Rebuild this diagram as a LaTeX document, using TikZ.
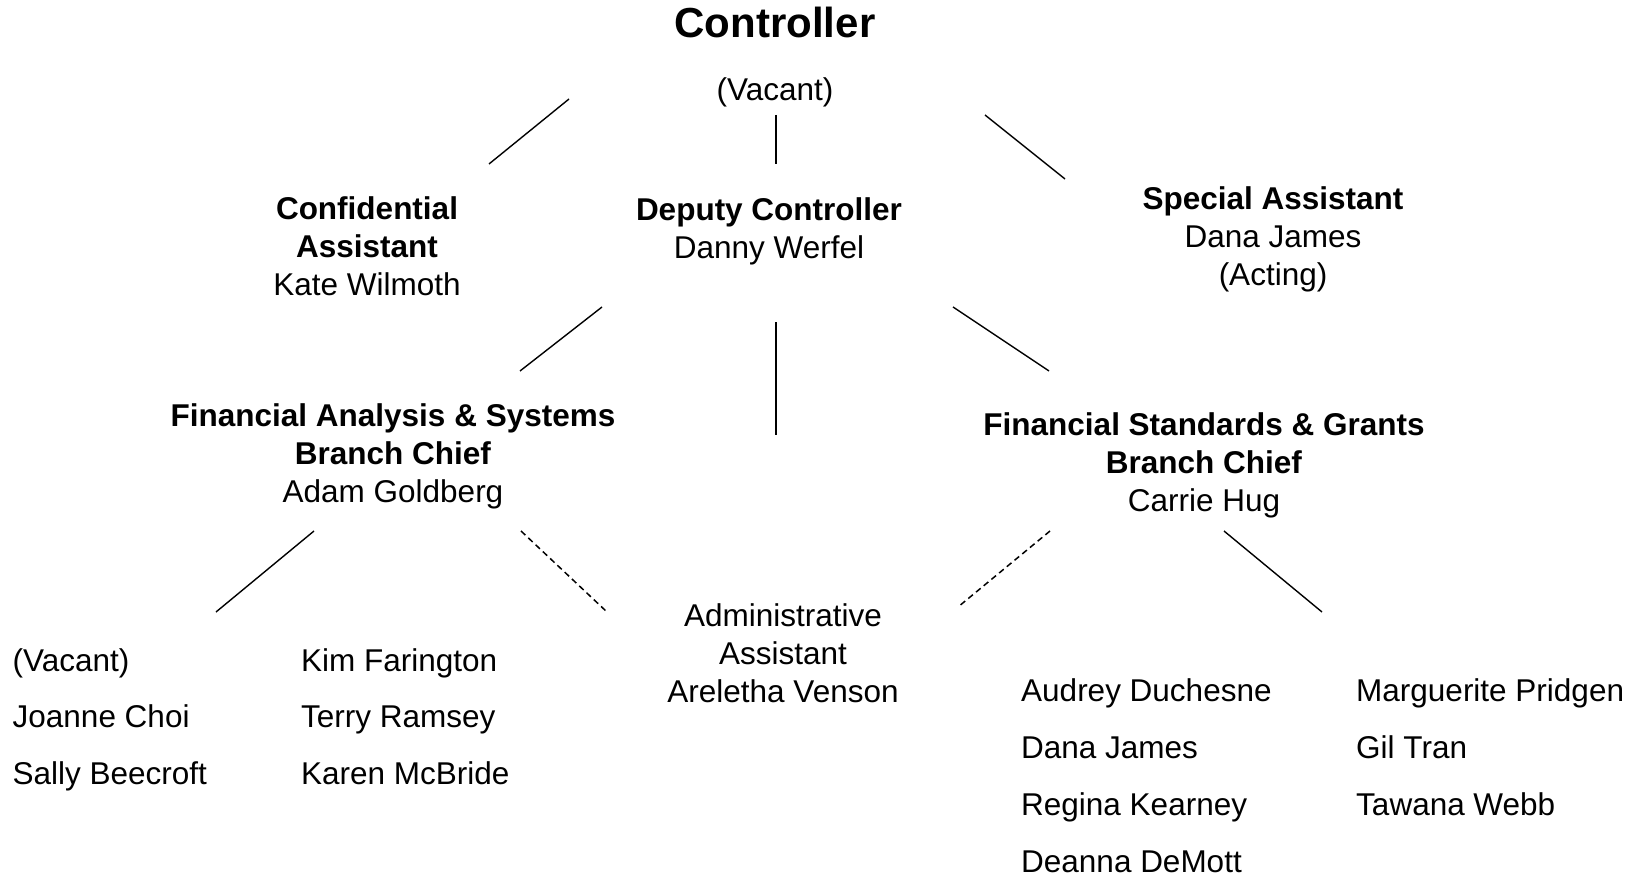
\documentclass[tikz,border=0pt]{standalone}
\usepackage{fontspec}
\setmainfont{Liberation Sans}
\begin{document}
\begin{tikzpicture}[x=1pt,y=-1pt,
  txt/.style={inner sep=0pt, anchor=base, align=center, font=\fontsize{31.5}{38}\selectfont},
  ttl/.style={inner sep=0pt, anchor=base, font=\fontsize{42}{50}\selectfont\bfseries},
  lstl/.style={inner sep=0pt, anchor=base west, align=left, font=\fontsize{31.5}{56.5}\selectfont},
  lstr/.style={inner sep=0pt, anchor=base west, align=left, font=\fontsize{31.5}{57}\selectfont},
  link/.style={line width=1.4pt},
  dlink/.style={line width=1.5pt, dash pattern=on 6pt off 4pt}]
\useasboundingbox (0,0) rectangle (1638,877);

% nodes (anchor = baseline of the last line)
\node[ttl] (ctl) at (775,38) {Controller};
\node[txt] (ctlname) at (775,101) {(Vacant)};
\node[txt] (conf) at (367,295) {\textbf{Confidential}\\\textbf{Assistant}\\Kate Wilmoth};
\node[txt] (dep) at (769,259) {\textbf{Deputy Controller}\\Danny Werfel};
\node[txt] (spec) at (1273,286) {\textbf{Special Assistant}\\Dana James\\(Acting)};
\node[txt] (fas) at (393,502) {\textbf{Financial Analysis \& Systems}\\\textbf{Branch Chief}\\Adam Goldberg};
\node[txt] (fsg) at (1204,511) {\textbf{Financial Standards \& Grants}\\\textbf{Branch Chief}\\Carrie Hug};
\node[txt] (adm) at (783,702) {Administrative\\Assistant\\Areletha Venson};
\node[lstl] (l1) at (12.5,784) {(Vacant)\\Joanne Choi\\Sally Beecroft};
\node[lstl] (l2) at (301,784) {Kim Farington\\Terry Ramsey\\Karen McBride};
\node[lstr] (r1) at (1021,872) {Audrey Duchesne\\Dana James\\Regina Kearney\\Deanna DeMott};
\node[lstr] (r2) at (1356,815) {Marguerite Pridgen\\Gil Tran\\Tawana Webb};

% connector end points
\coordinate (c1a) at (569,99);  \coordinate (c1b) at (489,164);
\coordinate (c2a) at (776,115); \coordinate (c2b) at (776,164);
\coordinate (c3a) at (985,115); \coordinate (c3b) at (1065,179);
\coordinate (d1a) at (602,307); \coordinate (d1b) at (520,371);
\coordinate (d2a) at (776,322); \coordinate (d2b) at (776,435);
\coordinate (d3a) at (953,307); \coordinate (d3b) at (1049,371);
\coordinate (f1a) at (314,531); \coordinate (f1b) at (216,612);
\coordinate (f2a) at (521,531); \coordinate (f2b) at (607,612);
\coordinate (g1a) at (1050,531); \coordinate (g1b) at (958,607);
\coordinate (g2a) at (1224,531); \coordinate (g2b) at (1322,612);

% connectors
\draw[link] (c1a) -- (c1b);
\draw[link] (c2a) -- (c2b);
\draw[link] (c3a) -- (c3b);
\draw[link] (d1a) -- (d1b);
\draw[link] (d2a) -- (d2b);
\draw[link] (d3a) -- (d3b);
\draw[link] (f1a) -- (f1b);
\draw[dlink] (f2a) -- (f2b);
\draw[dlink] (g1a) -- (g1b);
\draw[link] (g2a) -- (g2b);
\end{tikzpicture}
\end{document}
